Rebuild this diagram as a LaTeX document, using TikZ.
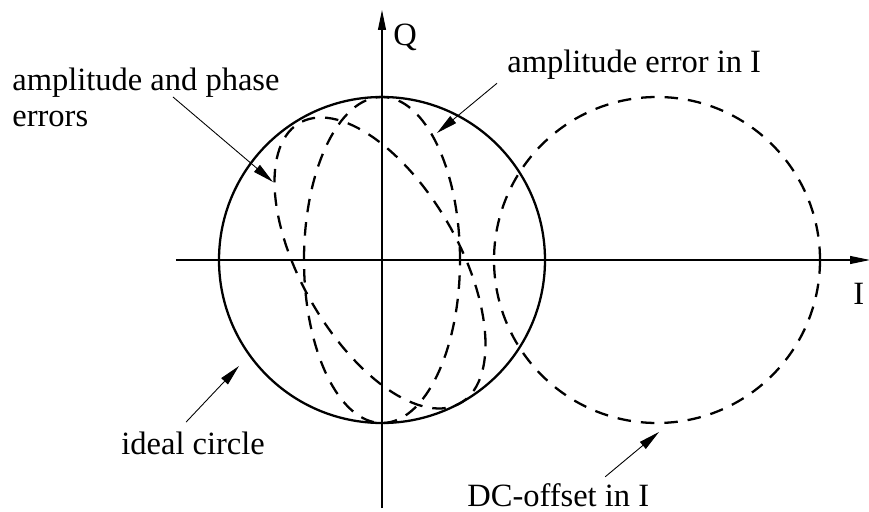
\documentclass[tikz,border=0pt]{standalone}
\usepackage{fontspec}
\setmainfont{Liberation Serif}
\usetikzlibrary{arrows.meta}

\begin{document}
\begin{tikzpicture}[
        >={Triangle[length=0.4cm,width=0.16cm]},
        axis/.style={->, line width=0.6pt},
        ideal/.style={draw, line width=1.3pt},
        distorted/.style={draw, line width=1.3pt, dash pattern=on 0.27cm off 0.2cm},
        pointer/.style={-{Triangle[length=0.42cm,width=0.18cm]}, line width=0.5pt},
        label/.style={font=\fontsize{18.5}{20}\selectfont, inner sep=0pt}
    ]
        \useasboundingbox (-7.64,-5.02) rectangle (9.74,5.2);

        % Sumbu I dan Q
        \draw[axis] (-4.12,0) -- (9.76,0);
        \draw[axis] (0,-4.96) -- (0,5.0);
        \node[label, anchor=base west] (lblQ) at (0.22,4.28) {Q};
        \node[label, anchor=base west] (lblI) at (9.42,-0.90) {I};

        % Lingkaran ideal
        \draw[ideal] (0,0) circle (3.26);

        % Galat amplitudo pada I
        \draw[distorted] (0,0) ellipse (1.56 and 3.26);

        % Galat amplitudo dan fase
        \draw[distorted] plot[domain=0:360, samples=121]
            ({-0.04+2.11*cos(\x)}, {-0.06+2.91*sin(\x-34)}) -- cycle;

        % DC-offset pada I
        \draw[distorted] (5.5,0) circle (3.26);

        % Ujung panah penunjuk
        \coordinate (tipAmpPh) at (-2.18,1.56);
        \coordinate (tipAmpI) at (1.10,2.54);
        \coordinate (tipIdeal) at (-2.86,-2.12);
        \coordinate (tipDC) at (5.54,-3.44);

        % Label
        \node[label, anchor=north west, align=left] (lblAmpPh) at (-7.40,3.84)
            {amplitude and phase\\errors};
        \node[label, anchor=base west] (lblAmpI) at (2.50,3.74) {amplitude error in I};
        \node[label, anchor=base west] (lblIdeal) at (-5.22,-3.90) {ideal circle};
        \node[label, anchor=base west] (lblDC) at (1.70,-4.92) {DC-offset in I};

        % Panah penunjuk
        \draw[pointer] ([xshift=3.22cm, yshift=-0.58cm]lblAmpPh.north west) -- (tipAmpPh);
        \draw[pointer] ([xshift=-0.2cm, yshift=-0.06cm]lblAmpI.south west) -- (tipAmpI);
        \draw[pointer] ([xshift=-0.14cm, yshift=0.2cm]lblIdeal.north) -- (tipIdeal);
        \draw[pointer] ([xshift=0.94cm, yshift=0.12cm]lblDC.north) -- (tipDC);

    \end{tikzpicture}
\end{document}
